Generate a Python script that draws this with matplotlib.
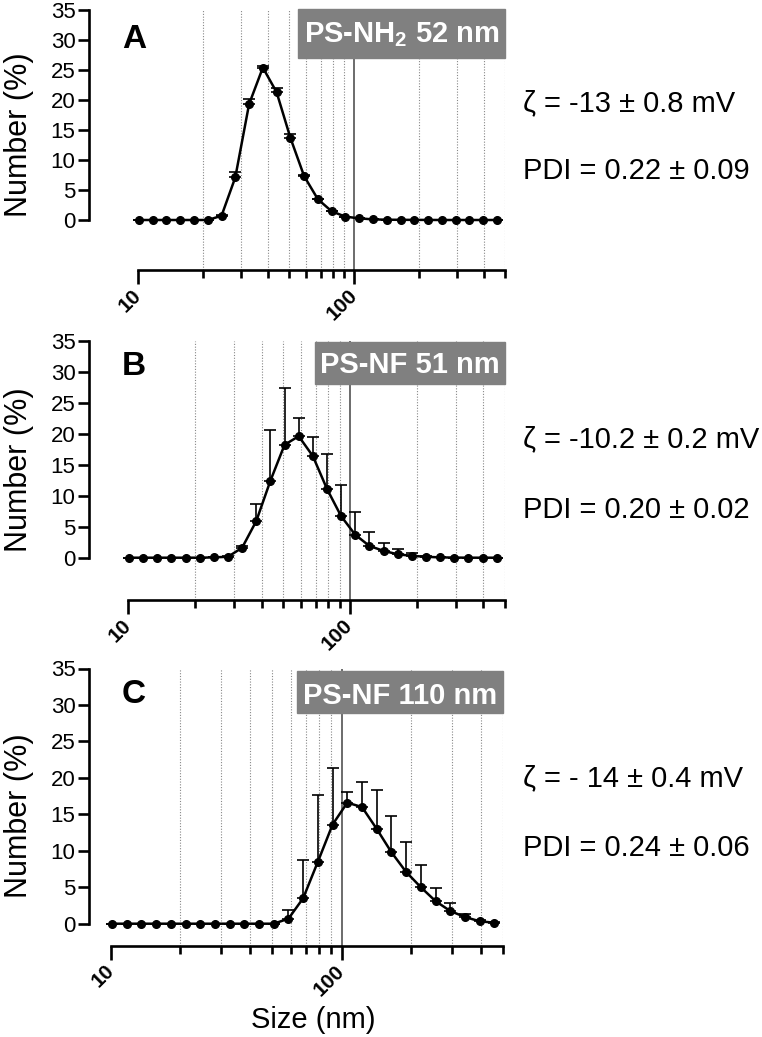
import matplotlib
matplotlib.use('Agg')
import matplotlib.pyplot as plt
from matplotlib.patches import Rectangle
import numpy as np

plt.rcParams['font.family'] = ['Liberation Sans', 'DejaVu Sans']
plt.rcParams['mathtext.fontset'] = 'custom'
plt.rcParams['mathtext.rm'] = 'Liberation Sans'
plt.rcParams['mathtext.bf'] = 'Liberation Sans:bold'

# size bins (nm)
sizes = [10.10, 11.70, 13.54, 15.69, 18.17, 21.04, 24.36, 28.21, 32.67, 37.84,
         43.82, 50.75, 58.77, 68.06, 78.82, 91.28, 105.7, 122.4, 141.8, 164.2,
         190.1, 220.2, 255.0, 295.3, 342.0, 396.1, 458.7]

# number distributions (%) and upper error (SD)
num_a = [0, 0, 0, 0, 0, 0, 0.7, 7.1, 19.3, 25.4, 21.3, 13.7, 7.3, 3.45, 1.45,
         0.55, 0.28, 0.1, 0.05, 0.03, 0.02, 0.01, 0, 0, 0, 0, 0]
err_a = [0, 0, 0, 0, 0, 0, 0.2, 0.95, 0.9, 0.3, 0.75, 0.6, 0.2, 0.1, 0.1,
         0, 0, 0, 0, 0, 0, 0, 0, 0, 0, 0, 0]

num_b = [0, 0, 0, 0, 0, 0, 0.05, 0.15, 1.6, 5.9, 12.4, 18.2, 19.6, 16.4, 11.1,
         6.7, 3.7, 1.9, 1.1, 0.55, 0.3, 0.15, 0.05, 0.02, 0, 0, 0]
err_b = [0, 0, 0, 0, 0, 0, 0, 0.1, 0.3, 2.8, 8.2, 9.1, 3.0, 3.0, 5.6,
         5.0, 3.6, 2.3, 1.3, 0.9, 0.5, 0.2, 0.05, 0, 0, 0, 0]

num_c = [0, 0, 0, 0, 0, 0, 0, 0, 0, 0, 0, 0, 0.69, 3.5, 8.5,
         13.6, 16.6, 16.0, 13.0, 9.8, 7.1, 5.0, 3.1, 1.74, 0.92, 0.33, 0.14]
err_c = [0, 0, 0, 0, 0, 0, 0, 0, 0, 0, 0, 0, 1.15, 5.2, 9.2,
         7.7, 1.5, 3.4, 5.3, 5.0, 4.1, 3.05, 1.8, 1.1, 0.4, 0.2, 0.05]

letters = ['A', 'B', 'C']
names = [r'PS-NH$_{\mathbf{2}}$ 52 nm', 'PS-NF 51 nm', 'PS-NF 110 nm']
zetas = ['ζ = -13 ± 0.8 mV', 'ζ = -10.2 ± 0.2 mV', 'ζ = - 14 ± 0.4 mV']
pdis = ['PDI = 0.22 ± 0.09', 'PDI = 0.20 ± 0.02', 'PDI = 0.24 ± 0.06']
series = [(num_a, err_a), (num_b, err_b), (num_c, err_c)]

grid_minor = [20, 30, 40, 50, 60, 70, 80, 90, 200, 300, 400, 500]
yticks = [0, 5, 10, 15, 20, 25, 30, 35]

W, H = 762, 1037
fig = plt.figure(figsize=(W / 100, H / 100), dpi=100)

def fx(px):
    return px / W

def fy(py):
    return 1 - py / H

# pixel layout per panel: left, right, y of 35, y of 0, y of x-axis,
# label box (x0, x1, y0, y1, text baseline), letter baseline, zeta/pdi baselines
layout = [
    dict(l=138, r=505, top=10, zero=220, axis=270, box=(297.7, 505, 9.3, 58.3, 42),
         let=48, zb=111, pb=179),
    dict(l=128, r=505, top=340.7, zero=557.7, axis=600, box=(315, 505, 342.3, 384.3, 373.5),
         let=375, zb=447, pb=518),
    dict(l=111, r=503, top=668.5, zero=923.7, axis=945.7, box=(297.3, 503.3, 671, 713.3, 703.5),
         let=703, zb=786, pb=856),
]
yaxis_x = 89.3

for i, L in enumerate(layout):
    ax = fig.add_axes([fx(L['l']), fy(L['axis']), (L['r'] - L['l']) / W,
                       (L['axis'] - L['top']) / H])
    scale = (L['zero'] - L['top']) / 35.0
    ax.set_xscale('log')
    ax.set_xlim(10, 500)
    ax.set_ylim(-(L['axis'] - L['zero']) / scale, 35)

    for s in ['top', 'right']:
        ax.spines[s].set_visible(False)
    ax.spines['left'].set_bounds(0, 35)
    ax.spines['left'].set_position(('outward', (L['l'] - yaxis_x) * 0.72))
    for s in ['left', 'bottom']:
        ax.spines[s].set_linewidth(1.9)

    ax.set_yticks(yticks)
    ax.set_yticklabels([str(t) for t in yticks])
    ax.set_xticks([10, 100])
    ax.set_xticks(grid_minor, minor=True)
    ax.set_xticklabels(['10', '100'], rotation=45, ha='right', va='center',
                       rotation_mode='anchor', fontweight='bold', fontsize=15)
    ax.set_xticklabels([], minor=True)
    ax.tick_params(axis='y', length=8, width=1.9, labelsize=16, pad=2)
    ax.tick_params(axis='x', which='major', length=10, width=1.9, pad=6)
    ax.tick_params(axis='x', which='minor', length=6, width=1.9)

    for g in grid_minor:
        ax.axvline(g, color='#888888', ls=(0, (1, 1.5)), lw=0.8, zorder=0)
    ax.axvline(100, color='#444444', lw=1.1, zorder=0)

    vals, err = series[i]
    ax.errorbar(sizes, vals, yerr=[np.zeros(len(err)), err], fmt='-o', color='black',
                lw=1.8, ms=5.5, elinewidth=1.2, capsize=4, capthick=1.2,
                clip_on=False, zorder=3)

    x0, x1, y0, y1, tb = L['box']
    fig.patches.append(Rectangle((fx(x0), fy(y1)), (x1 - x0) / W, (y1 - y0) / H,
                                 transform=fig.transFigure, color='#808080', zorder=5))
    fig.text(fx((x0 + x1) / 2), fy(tb), names[i], color='white', fontweight='bold',
             fontsize=21, ha='center', va='baseline', zorder=6)

    fig.text(fx(122), fy(L['let']), letters[i], fontsize=24, fontweight='bold',
             va='baseline')
    fig.text(fx(19), fy((L['top'] + L['zero']) / 2 + 20), 'Number (%)', fontsize=22,
             rotation=90, ha='center', va='center')
    fig.text(fx(523), fy(L['zb']), zetas[i], fontsize=21, va='baseline')
    fig.text(fx(523), fy(L['pb']), pdis[i], fontsize=21, va='baseline')

fig.text(fx(313.5), fy(1028), 'Size (nm)', fontsize=21, ha='center', va='baseline')

fig.savefig('out.png', dpi=100)
